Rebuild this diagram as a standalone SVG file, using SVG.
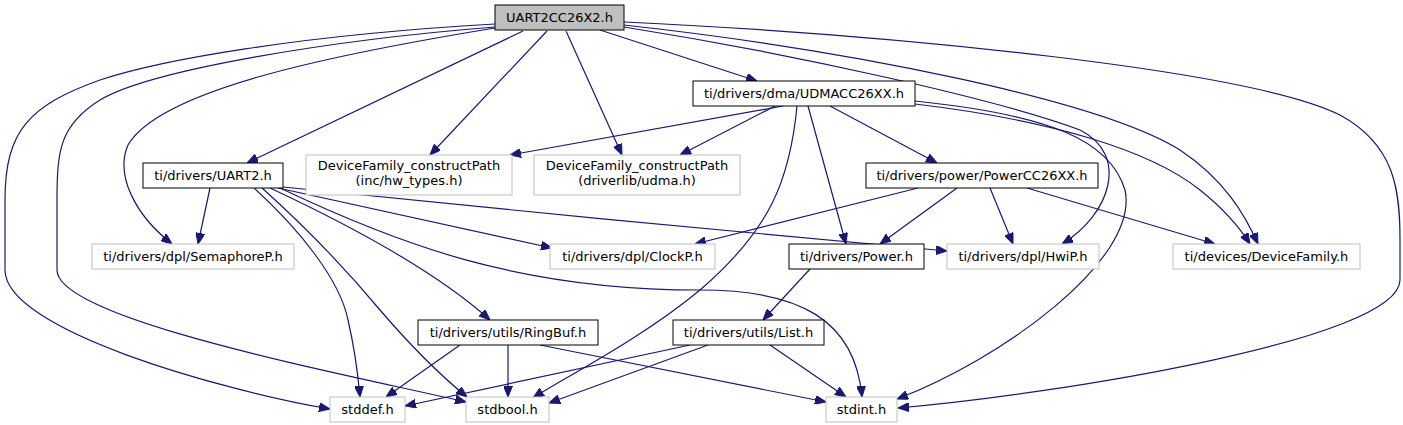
<svg xmlns="http://www.w3.org/2000/svg" width="1403" height="425" viewBox="0 0 1403 425">
<style>
.n rect{fill:#ffffff;stroke:#000000;stroke-width:1}
.g rect{fill:#ffffff;stroke:#bfbfbf;stroke-width:1}
.root rect{fill:#bfbfbf;stroke:#000000;stroke-width:1}
text{font-family:"DejaVu Sans","Liberation Sans",sans-serif;font-size:13px;fill:#000000;text-anchor:middle}
#edges path{fill:none;stroke:#191970;stroke-width:1.2;marker-end:url(#ah)}
</style>
<defs>
<marker id="ah" viewBox="0 0 11 9" refX="11" refY="4.5" markerWidth="11" markerHeight="9" markerUnits="userSpaceOnUse" orient="auto">
<path d="M0,0 L11,4.5 L0,9 z" fill="#191970" stroke="#191970" stroke-width="1"/>
</marker>
</defs>
<rect width="1403" height="425" fill="#ffffff"/>
<g id="edges">
<path d="M600,30 L757,81"/>
<path d="M523,31 L247,163"/>
<path d="M547,31 L430,155"/>
<path d="M566,31 L622,155"/>
<path d="M495,28 C330,55 160,90 128,145 C115,175 135,215 172,244"/>
<path d="M495,24 C300,35 160,60 100,80 C30,105 5,130 5,200 L5,270 C5,330 220,390 330,409"/>
<path d="M495,27 C330,40 150,70 100,100 C60,125 57,150 57,200 L57,270 C57,320 350,375 466,402"/>
<path d="M624,22 C900,35 1250,70 1340,115 C1395,145 1400,190 1400,240 L1400,280 C1400,340 1050,395 898,408"/>
<path d="M624,27 C800,55 1000,100 1080,130 C1130,155 1110,215 1062,244"/>
<path d="M624,25 C850,50 1100,100 1180,150 C1225,180 1245,215 1258,244"/>
<path d="M783,106 L510,155"/>
<path d="M775,106 L680,155"/>
<path d="M797,106 C790,180 770,230 700,290 C640,340 560,380 533,398"/>
<path d="M808,106 L846,244"/>
<path d="M830,106 L937,163"/>
<path d="M915,101 C1050,115 1110,140 1125,190 C1140,260 1000,360 897,399"/>
<path d="M915,104 C1050,120 1150,150 1200,190 C1225,210 1240,228 1250,244"/>
<path d="M210,188 L198,244"/>
<path d="M254,188 C300,230 340,280 348,320 C355,350 358,375 360,397"/>
<path d="M262,188 C320,240 355,280 380,310 C410,345 440,375 467,397"/>
<path d="M270,188 C360,230 440,275 490,320"/>
<path d="M278,188 L552,248"/>
<path d="M283,187 C450,205 800,238 947,251"/>
<path d="M280,188 C400,245 520,290 700,290 C800,290 855,320 862,397"/>
<path d="M918,188 L695,244"/>
<path d="M957,188 L880,244"/>
<path d="M990,188 L1013,244"/>
<path d="M1027,188 L1215,244"/>
<path d="M810,269 L763,320"/>
<path d="M460,345 L386,397"/>
<path d="M508,345 L508,397"/>
<path d="M540,345 L826,402"/>
<path d="M690,345 L405,406"/>
<path d="M708,345 L549,403"/>
<path d="M770,345 L846,397"/>
</g>
<g id="node-root" class="root"><rect x="495" y="5" width="129" height="25"/><text x="559.5" y="22">UART2CC26X2.h</text></g>
<g id="node-udma" class="n"><rect x="693" y="81" width="222" height="25"/><text x="804" y="98">ti/drivers/dma/UDMACC26XX.h</text></g>
<g id="node-uart2" class="n"><rect x="143" y="163" width="140" height="25"/><text x="213" y="180">ti/drivers/UART2.h</text></g>
<g id="node-dfc-hw" class="g"><rect x="306" y="155" width="206" height="40"/><text x="409" y="170">DeviceFamily_constructPath</text><text x="409" y="185">(inc/hw_types.h)</text></g>
<g id="node-dfc-udma" class="g"><rect x="534" y="155" width="206" height="40"/><text x="637" y="170">DeviceFamily_constructPath</text><text x="637" y="185">(driverlib/udma.h)</text></g>
<g id="node-powercc" class="n"><rect x="866" y="163" width="232" height="25"/><text x="982" y="180">ti/drivers/power/PowerCC26XX.h</text></g>
<g id="node-sem" class="g"><rect x="92" y="244" width="202" height="25"/><text x="193" y="261">ti/drivers/dpl/SemaphoreP.h</text></g>
<g id="node-clock" class="g"><rect x="550" y="244" width="165" height="25"/><text x="632.5" y="261">ti/drivers/dpl/ClockP.h</text></g>
<g id="node-power" class="n"><rect x="789" y="244" width="135" height="25"/><text x="856.5" y="261">ti/drivers/Power.h</text></g>
<g id="node-hwi" class="g"><rect x="947" y="244" width="152" height="25"/><text x="1023" y="261">ti/drivers/dpl/HwiP.h</text></g>
<g id="node-devfam" class="g"><rect x="1173" y="244" width="187" height="25"/><text x="1266.5" y="261">ti/devices/DeviceFamily.h</text></g>
<g id="node-ringbuf" class="n"><rect x="418" y="320" width="180" height="25"/><text x="508" y="337">ti/drivers/utils/RingBuf.h</text></g>
<g id="node-list" class="n"><rect x="673" y="320" width="151" height="25"/><text x="748.5" y="337">ti/drivers/utils/List.h</text></g>
<g id="node-stddef" class="g"><rect x="330" y="397" width="75" height="25"/><text x="367.5" y="414">stddef.h</text></g>
<g id="node-stdbool" class="g"><rect x="466" y="397" width="83" height="25"/><text x="507.5" y="414">stdbool.h</text></g>
<g id="node-stdint" class="g"><rect x="826" y="397" width="71" height="25"/><text x="861.5" y="414">stdint.h</text></g>
</svg>
